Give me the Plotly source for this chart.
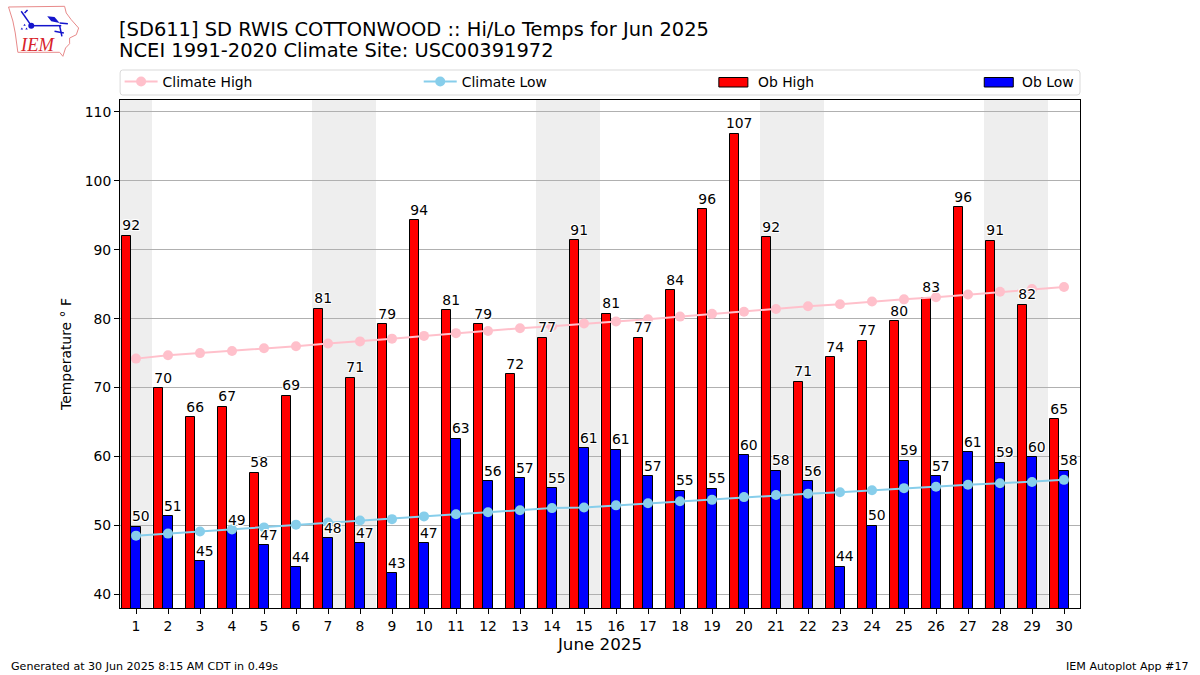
import numpy as np
import plotly.graph_objects as go

days = list(range(1, 31))
ob_high = [92.0, 69.9, 65.7, 67.2, 57.6, 68.8, 81.4, 71.4, 79.2, 94.3, 81.2, 79.2, 71.9, 77.2, 91.4,
           80.7, 77.2, 84.1, 95.9, 106.8, 91.8, 70.8, 74.4, 76.8, 79.6, 83.0, 96.2, 91.3, 82.0, 65.4]
ob_low = [49.8, 51.3, 44.8, 49.3, 47.1, 43.9, 48.1, 47.4, 43.05, 47.4, 62.6, 56.4, 56.8, 55.4, 61.2,
          61.0, 57.1, 55.0, 55.3, 60.2, 57.9, 56.4, 44.0, 49.9, 59.4, 57.1, 60.6, 59.1, 59.9, 57.9]
climate_high = [74.2, 74.7, 75.0, 75.3, 75.7, 76.0, 76.4, 76.7, 77.1, 77.5, 77.9, 78.2, 78.6, 78.9, 79.3,
                79.6, 79.9, 80.3, 80.7, 81.0, 81.4, 81.8, 82.1, 82.5, 82.8, 83.1, 83.5, 83.9, 84.3, 84.6]
climate_low = [48.5, 48.8, 49.1, 49.4, 49.7, 50.1, 50.4, 50.7, 50.9, 51.3, 51.6, 51.9, 52.2, 52.5, 52.6,
               52.9, 53.2, 53.5, 53.7, 54.1, 54.4, 54.6, 54.8, 55.1, 55.4, 55.6, 55.9, 56.1, 56.3, 56.6]
weekends = [(1, 1), (7, 8), (14, 15), (21, 22), (28, 29)]
y_ticks = [40, 50, 60, 70, 80, 90, 100, 110]

WIDTH, HEIGHT = 1200, 675
LEFT, RIGHT, TOP, BOTTOM = 120.4, 1080, 100, 608
FONT = 'DejaVu Sans'
HALO = '-1px -1px 0 #fff, 1px -1px 0 #fff, -1px 1px 0 #fff, 1px 1px 0 #fff'
LABEL_LIFT = 0.3


def px_x(x):
    return (x - LEFT) / (RIGHT - LEFT)


def px_y(y):
    return (BOTTOM - y) / (BOTTOM - TOP)


def paper_path(points, close=False):
    path = 'M' + ' L'.join('{:.4f},{:.4f}'.format(px_x(x), px_y(y)) for x, y in points)
    return path + (' Z' if close else '')


x_days = np.array(days)
fig = go.Figure()
fig.add_trace(go.Bar(x=x_days - 0.3, y=ob_high, width=0.3, name='Ob High', showlegend=False,
                     marker=dict(color='red', line=dict(color='black', width=1))))
fig.add_trace(go.Bar(x=x_days, y=ob_low, width=0.3, name='Ob Low', showlegend=False,
                     marker=dict(color='blue', line=dict(color='black', width=1))))
fig.add_trace(go.Scatter(x=days, y=climate_high, name='Climate High', mode='lines+markers', legend='legend',
                         line=dict(color='pink', width=2), marker=dict(color='pink', size=10)))
fig.add_trace(go.Scatter(x=days, y=climate_low, name='Climate Low', mode='lines+markers', legend='legend2',
                         line=dict(color='skyblue', width=2), marker=dict(color='skyblue', size=10)))
label_font = dict(family=FONT, size=13.9, color='black', shadow=HALO)
fig.add_trace(go.Scatter(x=x_days - 0.15, y=np.array(ob_high) + LABEL_LIFT, text=[str(int(round(v))) for v in ob_high],
                         mode='text', textposition='top center', textfont=label_font, showlegend=False,
                         cliponaxis=False))
fig.add_trace(go.Scatter(x=x_days + 0.15, y=np.array(ob_low) + LABEL_LIFT, text=[str(int(round(v))) for v in ob_low],
                         mode='text', textposition='top center', textfont=label_font, showlegend=False,
                         cliponaxis=False))

# weekend shading
for first, last in weekends:
    fig.add_shape(type='rect', xref='x', yref='paper', x0=first - 0.5, x1=last + 0.5, y0=0, y1=1,
                  fillcolor='#EEEEEE', line_width=0, layer='below')

# legend frame
fig.add_shape(type='path', xref='paper', yref='paper', layer='below',
              path=('M{x0},{y0} L{x1},{y0} Q{x2},{y0} {x2},{y1} L{x2},{y2} Q{x2},{y3} {x1},{y3} '
                    'L{x0},{y3} Q{x4},{y3} {x4},{y2} L{x4},{y1} Q{x4},{y0} {x0},{y0} Z').format(
                  x0=px_x(123), x1=px_x(1077), x2=px_x(1080), x4=px_x(120.5),
                  y0=px_y(70), y1=px_y(73), y2=px_y(92), y3=px_y(95)),
              line=dict(color='#D9D9D9', width=1), fillcolor='white')

# plotly's bar legend symbol is a fixed small square, so these two entries are drawn by hand
for x0, color, name, text_x in [(719, 'red', 'Ob High', 758.7), (984.3, 'blue', 'Ob Low', 1023)]:
    fig.add_shape(type='rect', xref='paper', yref='paper', x0=px_x(x0), x1=px_x(x0 + 29), y0=px_y(87), y1=px_y(77.5),
                  fillcolor=color, line=dict(color='black', width=1))
    fig.add_annotation(text=name, x=px_x(text_x - 3), y=px_y(82), xref='paper', yref='paper', showarrow=False,
                       xanchor='left', yanchor='middle', font=dict(family=FONT, size=13.9, color='black'))

# logo
fig.add_shape(type='path', xref='paper', yref='paper', path=paper_path(
    [(9, 7), (65, 6.3), (66.7, 13), (71.7, 19.7), (79, 28), (76.7, 34.7), (70, 38), (70, 43.7), (66, 48), (63.3, 56.3),
     (60, 52.3), (18.3, 52.3), (15.7, 33), (13.3, 21)], close=True),
    line=dict(color='#E88A8A', width=1), fillcolor='white')
for points in [[(31.7, 25.7), (61.7, 25.7)], [(21.7, 11.3), (31.7, 25.7)], [(60, 25.7), (62.3, 36.3)],
               [(55, 31.3), (64.3, 33)], [(60, 23), (68.3, 23.7)], [(25, 13), (28, 10)]]:
    fig.add_shape(type='path', xref='paper', yref='paper', path=paper_path(points),
                  line=dict(color='#1414CC', width=1.5))
for points in [[(47.7, 16.3), (55, 17), (60, 23), (51.7, 21.3)], [(25, 23.7), (26.2, 25.7), (23.8, 25.7)],
               [(22.3, 27.5), (23.5, 29.5), (21.1, 29.5)], [(27, 27.5), (28.2, 29.5), (25.8, 29.5)]]:
    fig.add_shape(type='path', xref='paper', yref='paper', path=paper_path(points, close=True),
                  fillcolor='#1414CC', line_width=0)
fig.add_shape(type='circle', xref='paper', yref='paper', x0=px_x(28.7), x1=px_x(34.7), y0=px_y(22.7), y1=px_y(28.7),
              fillcolor='#1414CC', line_width=0)

annotations = [
    dict(text='[SD611] SD RWIS COTTONWOOD :: Hi/Lo Temps for Jun 2025', x=117.5, y=29, size=19.45, xanchor='left'),
    dict(text='NCEI 1991-2020 Climate Site: USC00391972', x=117.5, y=50.5, size=19.45, xanchor='left'),
    dict(text='Generated at 30 Jun 2025 8:15 AM CDT in 0.49s', x=9.5, y=666, size=11.1, xanchor='left'),
    dict(text='IEM Autoplot App #17', x=1190.5, y=666, size=11.1, xanchor='right'),
]
for a in annotations:
    fig.add_annotation(text=a['text'], x=px_x(a['x']), y=px_y(a['y']), xref='paper', yref='paper', showarrow=False,
                       xanchor=a['xanchor'], yanchor='middle', font=dict(family=FONT, size=a['size'], color='black'))
fig.add_annotation(text='<i>IEM</i>', x=px_x(37.5), y=px_y(45), xref='paper', yref='paper', showarrow=False,
                   xanchor='center', yanchor='middle', font=dict(family='Liberation Serif', size=18.5, color='#D8232A'))

legend_style = dict(bgcolor='rgba(0,0,0,0)', borderwidth=0, yanchor='middle', xanchor='left', y=px_y(82),
                    itemwidth=33, font=dict(family=FONT, size=13.9, color='black'))
fig.update_layout(
    width=WIDTH, height=HEIGHT, autosize=False, barmode='overlay', bargap=0,
    margin=dict(l=LEFT, r=WIDTH - RIGHT, t=TOP, b=HEIGHT - BOTTOM, pad=0, autoexpand=False),
    paper_bgcolor='white', plot_bgcolor='white',
    font=dict(family=FONT, size=13.9, color='black'),
    showlegend=True,
    legend=dict(x=px_x(120), **legend_style),
    legend2=dict(x=px_x(419), **legend_style),
    xaxis=dict(range=[0.5, 30.5], tickmode='array', tickvals=days, ticktext=[str(d) for d in days], ticks='outside',
               ticklen=5, tickwidth=1, tickcolor='black', showgrid=False, zeroline=False, showline=True,
               linecolor='black', linewidth=1, mirror=True,
               title=dict(text='June 2025', font=dict(family=FONT, size=16.7), standoff=4)),
    yaxis=dict(range=[38, 111.74], tickmode='array', tickvals=y_ticks, ticks='outside', ticklen=5, tickwidth=1,
               tickcolor='black', showgrid=True, gridcolor='#B0B0B0', gridwidth=1, zeroline=False, showline=True,
               linecolor='black', linewidth=1, mirror=True,
               title=dict(text='Temperature ° F', font=dict(family=FONT, size=13.9), standoff=9)),
)

fig.write_html('out.html', config=dict(displayModeBar=False), post_script="document.body.style.margin='0';")
